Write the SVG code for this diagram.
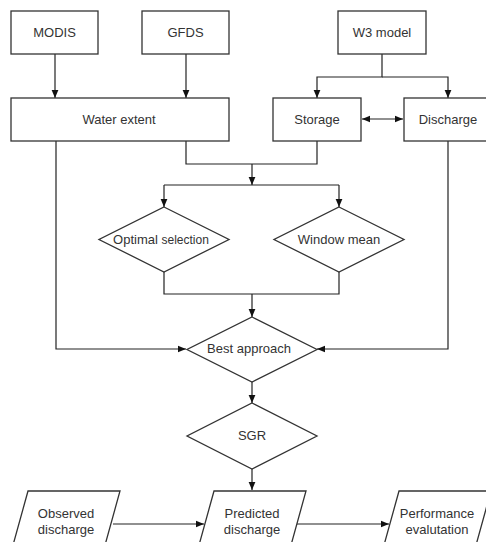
<svg xmlns="http://www.w3.org/2000/svg" width="486" height="542" viewBox="0 0 486 542">
<style>
.n{fill:#fff;stroke:#333;stroke-width:1.3}
.t{font-family:"Liberation Sans",Arial,sans-serif;font-size:13px;fill:#333;text-anchor:middle}
.c{fill:none;stroke:#222;stroke-width:1.2}
</style>
<defs>
<marker id="a" viewBox="0 0 10 10" refX="10" refY="5" markerWidth="8" markerHeight="8" markerUnits="userSpaceOnUse" orient="auto-start-reverse">
<path d="M0,0.8 L10,5 L0,9.2 Z" fill="#111"/>
</marker>
</defs>
<rect width="486" height="542" fill="#fff"/>
<g id="connectors">
<path class="c" d="M55,54 V98" marker-end="url(#a)"/>
<path class="c" d="M186,54 V98" marker-end="url(#a)"/>
<path class="c" d="M382,54 V77 H317 V98" marker-end="url(#a)"/>
<path class="c" d="M382,77 H448 V98" marker-end="url(#a)"/>
<path class="c" d="M362,119 H403" marker-start="url(#a)" marker-end="url(#a)"/>
<path class="c" d="M186,141 V164 H317 V141"/>
<path class="c" d="M252,164 V185" marker-end="url(#a)"/>
<path class="c" d="M164,185 H339"/>
<path class="c" d="M164,185 V207" marker-end="url(#a)"/>
<path class="c" d="M339,185 V207" marker-end="url(#a)"/>
<path class="c" d="M164,272 V294 H339 V272"/>
<path class="c" d="M252,294 V317" marker-end="url(#a)"/>
<path class="c" d="M56,141 V349 H186" marker-end="url(#a)"/>
<path class="c" d="M448,141 V349 H317" marker-end="url(#a)"/>
<path class="c" d="M252,382 V403" marker-end="url(#a)"/>
<path class="c" d="M252,469 V490" marker-end="url(#a)"/>
<path class="c" d="M113,524 H204" marker-end="url(#a)"/>
<path class="c" d="M297,524 H389" marker-end="url(#a)"/>
</g>
<g id="modis"><rect class="n" x="11" y="11" width="87" height="43"/><text class="t" x="54.5" y="37">MODIS</text></g>
<g id="gfds"><rect class="n" x="142" y="11" width="87" height="43"/><text class="t" x="185.5" y="37">GFDS</text></g>
<g id="w3model"><rect class="n" x="338" y="11" width="88" height="43"/><text class="t" x="382" y="37">W3 model</text></g>
<g id="water-extent"><rect class="n" x="11" y="98" width="218" height="43"/><text class="t" x="119" y="124">Water extent</text></g>
<g id="storage"><rect class="n" x="273" y="98" width="88" height="43"/><text class="t" x="317" y="124">Storage</text></g>
<g id="discharge"><rect class="n" x="404" y="98" width="88" height="43"/><text class="t" x="448" y="124">Discharge</text></g>
<g id="optimal-selection"><polygon class="n" points="164,207 229,239.5 164,272 99,239.5"/><text class="t" x="161" y="244">Optimal <tspan font-size="12">selection</tspan></text></g>
<g id="window-mean"><polygon class="n" points="339,207 404,239.5 339,272 274,239.5"/><text class="t" x="339" y="244">Window mean</text></g>
<g id="best-approach"><polygon class="n" points="252,317 317,349.5 252,382 187,349.5"/><text class="t" x="249" y="353">Best approach</text></g>
<g id="sgr"><polygon class="n" points="252,403 317,436 252,469 187,436"/><text class="t" x="252" y="440">SGR</text></g>
<g id="observed-discharge"><polygon class="n" points="28,491 120,491 102,556 10,556"/><text class="t" x="66" y="518">Observed</text><text class="t" x="66" y="534">discharge</text></g>
<g id="predicted-discharge"><polygon class="n" points="214,491 306,491 288,556 196,556"/><text class="t" x="252" y="518">Predicted</text><text class="t" x="252" y="534">discharge</text></g>
<g id="performance-evaluation"><polygon class="n" points="399,491 491,491 473,556 381,556"/><text class="t" x="437" y="518">Performance</text><text class="t" x="437" y="534">evalutation</text></g>
</svg>
